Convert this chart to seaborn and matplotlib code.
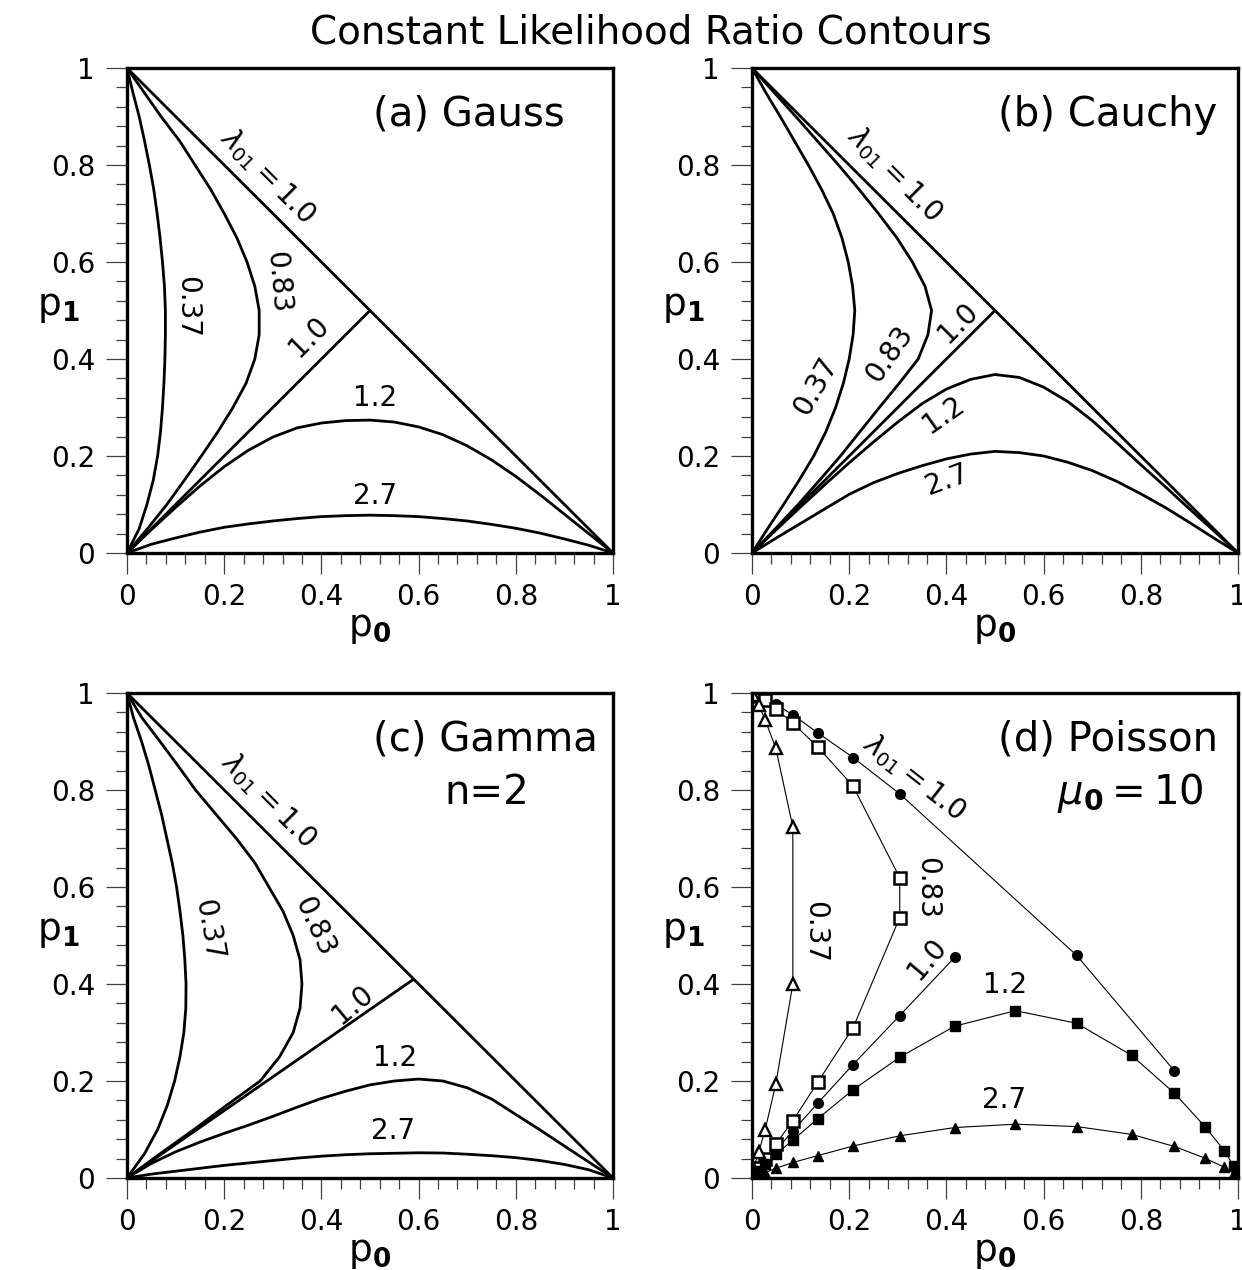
import matplotlib
matplotlib.use("Agg")
import matplotlib.pyplot as plt
import pandas as pd
import seaborn as sns
from matplotlib.ticker import MultipleLocator, FixedLocator, FixedFormatter

# ------------------------------------------------------------------ data
TICKS = [0.0, 0.2, 0.4, 0.6, 0.8, 1.0]
TICK_LABELS = ["0", "0.2", "0.4", "0.6", "0.8", "1"]

DIAG_P0 = [0.0, 1.0]
DIAG_P1 = [1.0, 0.0]

# shared sampling grids for the smooth contours
P1_GRID = [1.0, 0.95, 0.9, 0.85, 0.8, 0.75, 0.7, 0.65, 0.6, 0.55, 0.5,
           0.45, 0.4, 0.35, 0.3, 0.25, 0.2, 0.15, 0.1, 0.05, 0.0]
P0_GRID = [0.0, 0.05, 0.1, 0.15, 0.2, 0.25, 0.3, 0.35, 0.4, 0.45, 0.5,
           0.55, 0.6, 0.65, 0.7, 0.75, 0.8, 0.85, 0.9, 0.95, 1.0]

# (a) Gauss
GAUSS_L10_P0 = [0.0, 0.5]
GAUSS_L10_P1 = [0.0, 0.5]
GAUSS_L037_P0 = [0.0, 0.012, 0.025, 0.036, 0.046, 0.055, 0.062, 0.068, 0.073, 0.077, 0.079,
                 0.079, 0.078, 0.076, 0.073, 0.069, 0.063, 0.054, 0.041, 0.025, 0.0]
GAUSS_L083_P0 = [0.0, 0.035, 0.070, 0.108, 0.140, 0.172, 0.200, 0.226, 0.247, 0.263, 0.272,
                 0.272, 0.263, 0.245, 0.218, 0.187, 0.153, 0.118, 0.082, 0.042, 0.0]
GAUSS_L12_P1 = [0.0, 0.048, 0.094, 0.138, 0.178, 0.212, 0.239, 0.258, 0.268, 0.273, 0.274,
                0.270, 0.260, 0.244, 0.221, 0.192, 0.158, 0.120, 0.080, 0.040, 0.0]
GAUSS_L27_P1 = [0.0, 0.018, 0.031, 0.043, 0.053, 0.060, 0.066, 0.071, 0.075, 0.077, 0.078,
                0.077, 0.075, 0.071, 0.066, 0.059, 0.051, 0.041, 0.029, 0.016, 0.0]

# (b) Cauchy
CAUCHY_L10_P0 = [0.0, 0.5]
CAUCHY_L10_P1 = [0.0, 0.5]
CAUCHY_L037_P0 = [0.0, 0.028, 0.058, 0.087, 0.116, 0.143, 0.167, 0.185, 0.198, 0.207, 0.2115,
                  0.208, 0.200, 0.188, 0.172, 0.152, 0.127, 0.097, 0.065, 0.032, 0.0]
CAUCHY_L083_P0 = [0.0, 0.045, 0.090, 0.134, 0.178, 0.220, 0.260, 0.298, 0.330, 0.356, 0.3695,
                  0.362, 0.342, 0.303, 0.262, 0.222, 0.182, 0.139, 0.095, 0.048, 0.0]
CAUCHY_L12_P1 = [0.0, 0.048, 0.095, 0.141, 0.186, 0.229, 0.270, 0.308, 0.338, 0.358, 0.368,
                 0.362, 0.342, 0.312, 0.273, 0.228, 0.182, 0.137, 0.091, 0.046, 0.0]
CAUCHY_L27_P1 = [0.0, 0.031, 0.061, 0.091, 0.121, 0.145, 0.164, 0.180, 0.194, 0.204, 0.2095,
                 0.207, 0.200, 0.187, 0.170, 0.148, 0.122, 0.094, 0.063, 0.031, 0.0]

# (c) Gamma, n = 2
GAMMA_L10_P0 = [0.0, 0.59]
GAMMA_L10_P1 = [0.0, 0.41]
GAMMA_L037_P0 = [0.0, 0.013, 0.030, 0.045, 0.058, 0.071, 0.082, 0.093, 0.102, 0.109, 0.115,
                 0.119, 0.1215, 0.121, 0.117, 0.109, 0.098, 0.083, 0.063, 0.036, 0.0]
GAMMA_L083_P0 = [0.0, 0.030, 0.068, 0.105, 0.141, 0.183, 0.225, 0.263, 0.292, 0.321, 0.342,
                 0.356, 0.360, 0.356, 0.342, 0.314, 0.274, 0.205, 0.138, 0.068, 0.0]
GAMMA_L12_P1 = [0.0, 0.030, 0.054, 0.074, 0.092, 0.109, 0.127, 0.146, 0.164, 0.179, 0.192,
                0.200, 0.204, 0.200, 0.186, 0.163, 0.131, 0.099, 0.066, 0.033, 0.0]
GAMMA_L27_P1 = [0.0, 0.008, 0.014, 0.020, 0.026, 0.031, 0.036, 0.041, 0.045, 0.048, 0.050,
                0.051, 0.052, 0.0515, 0.049, 0.046, 0.042, 0.036, 0.028, 0.017, 0.0]

# (d) Poisson, mu0 = 10 (discrete points)
POIS_L10_UP_P0 = [0.003, 0.014, 0.027, 0.049, 0.084, 0.135, 0.208, 0.304, 0.668, 0.869]
POIS_L10_UP_P1 = [0.998, 0.993, 0.986, 0.977, 0.955, 0.918, 0.867, 0.792, 0.459, 0.221]
POIS_L10_LO_P0 = [0.003, 0.014, 0.027, 0.049, 0.084, 0.135, 0.208, 0.304, 0.417]
POIS_L10_LO_P1 = [0.004, 0.017, 0.032, 0.057, 0.097, 0.154, 0.234, 0.335, 0.455]
POIS_L083_P0 = [0.003, 0.014, 0.027, 0.049, 0.084, 0.135, 0.208, 0.304, 0.304, 0.208, 0.135, 0.084, 0.049, 0.027, 0.014, 0.003]
POIS_L083_P1 = [0.998, 0.993, 0.986, 0.967, 0.938, 0.889, 0.808, 0.619, 0.537, 0.310, 0.197, 0.118, 0.070, 0.040, 0.021, 0.006]
POIS_L037_P0 = [0.003, 0.014, 0.027, 0.049, 0.084, 0.084, 0.049, 0.027, 0.014, 0.003]
POIS_L037_P1 = [0.995, 0.975, 0.945, 0.886, 0.724, 0.400, 0.194, 0.099, 0.054, 0.020]
POIS_L12_P0 = [0.003, 0.014, 0.027, 0.049, 0.084, 0.135, 0.208, 0.304, 0.417, 0.542, 0.668, 0.781, 0.869, 0.932, 0.972, 0.991, 0.998]
POIS_L12_P1 = [0.004, 0.015, 0.028, 0.049, 0.078, 0.122, 0.182, 0.249, 0.313, 0.345, 0.319, 0.253, 0.175, 0.106, 0.056, 0.025, 0.008]
POIS_L27_P0 = [0.014, 0.027, 0.049, 0.084, 0.135, 0.208, 0.304, 0.417, 0.542, 0.668, 0.781, 0.869, 0.932, 0.972, 0.991]
POIS_L27_P1 = [0.006, 0.011, 0.020, 0.032, 0.046, 0.066, 0.087, 0.104, 0.111, 0.106, 0.090, 0.065, 0.041, 0.022, 0.010]

# ------------------------------------------------------------------ style
sns.set_style("ticks")
plt.rcParams["font.family"] = ["DejaVu Sans"]
plt.rcParams["mathtext.fontset"] = "dejavusans"
plt.rcParams["text.color"] = "black"
plt.rcParams["axes.labelcolor"] = "black"

LAM_TEXT = r"$\lambda_{\mathregular{01}}\mathregular{=1.0}$"
P0_TEXT = r"$\mathregular{p}_{\mathbf{0}}$"
P1_TEXT = r"$\mathregular{p}_{\mathbf{1}}$"

fig = plt.figure(figsize=(12.42, 12.70), dpi=100)

W, H = 486 / 1242, 485 / 1270
positions = {
    "a": [127 / 1242, 1 - 553 / 1270, W, H],
    "b": [752 / 1242, 1 - 553 / 1270, W, H],
    "c": [127 / 1242, 1 - 1178 / 1270, W, H],
    "d": [752 / 1242, 1 - 1178 / 1270, W, H],
}


def setup_axes(ax):
    ax.set_xlim(0, 1)
    ax.set_ylim(0, 1)
    for side in ["left", "right", "top", "bottom"]:
        ax.spines[side].set_visible(True)
        ax.spines[side].set_linewidth(2.4)
        ax.spines[side].set_color("black")
    ax.xaxis.set_major_locator(FixedLocator(TICKS))
    ax.yaxis.set_major_locator(FixedLocator(TICKS))
    ax.xaxis.set_major_formatter(FixedFormatter(TICK_LABELS))
    ax.yaxis.set_major_formatter(FixedFormatter(TICK_LABELS))
    ax.xaxis.set_minor_locator(MultipleLocator(0.04))
    ax.yaxis.set_minor_locator(MultipleLocator(0.04))
    ax.tick_params(which="both", direction="out", top=False, right=False,
                   color="#404040", width=0.9, labelcolor="black")
    ax.tick_params(which="major", length=15, labelsize=20)
    ax.tick_params(which="minor", length=8)
    ax.tick_params(axis="x", which="major", pad=6.5)
    ax.tick_params(axis="y", which="major", pad=8)
    ax.set_xlabel(P0_TEXT, fontsize=27, va="center")
    ax.set_ylabel(P1_TEXT, fontsize=27, rotation=0, va="center", ha="center")
    ax.xaxis.set_label_coords(0.5, -0.155)
    ax.yaxis.set_label_coords(-0.142, 0.507)


def curve(ax, p0, p1, lw=2.0):
    df = pd.DataFrame({"p0": p0, "p1": p1})
    sns.lineplot(data=df, x="p0", y="p1", sort=False, estimator=None,
                 color="black", lw=lw, ax=ax)


def points(ax, p0, p1, marker, ms, filled, mew=1.5):
    df = pd.DataFrame({"p0": p0, "p1": p1})
    sns.lineplot(data=df, x="p0", y="p1", sort=False, estimator=None,
                 color="black", lw=0.8, marker=marker, markersize=ms,
                 markerfacecolor="black" if filled else "white",
                 markeredgecolor="black", markeredgewidth=mew, ax=ax)


def label(ax, text, x, y, rot=0, size=20):
    ax.text(x, y, text, fontsize=size, rotation=rot, rotation_mode="anchor",
            ha="center", va="center", color="black")


def panel_title(ax, text, sub=None, sub_x=0.75):
    ax.text(0.507, 0.881, text, transform=ax.transAxes, fontsize=29,
            ha="left", va="baseline")
    if sub is not None:
        ax.text(sub_x, 0.772, sub, transform=ax.transAxes, fontsize=29,
                ha="center", va="baseline")


# (a) Gauss
ax = fig.add_axes(positions["a"])
curve(ax, DIAG_P0, DIAG_P1)
curve(ax, GAUSS_L10_P0, GAUSS_L10_P1)
curve(ax, GAUSS_L037_P0, P1_GRID)
curve(ax, GAUSS_L083_P0, P1_GRID)
curve(ax, P0_GRID, GAUSS_L12_P1)
curve(ax, P0_GRID, GAUSS_L27_P1)
setup_axes(ax)
label(ax, LAM_TEXT, 0.29, 0.778, -45)
label(ax, "0.37", 0.1235, 0.508, -90)
label(ax, "0.83", 0.311, 0.559, -85)
label(ax, "1.0", 0.3735, 0.446, 45)
label(ax, "1.2", 0.51, 0.32)
label(ax, "2.7", 0.51, 0.1175)
panel_title(ax, "(a) Gauss")

# (b) Cauchy
ax = fig.add_axes(positions["b"])
curve(ax, DIAG_P0, DIAG_P1)
curve(ax, CAUCHY_L10_P0, CAUCHY_L10_P1)
curve(ax, CAUCHY_L037_P0, P1_GRID)
curve(ax, CAUCHY_L083_P0, P1_GRID)
curve(ax, P0_GRID, CAUCHY_L12_P1)
curve(ax, P0_GRID, CAUCHY_L27_P1)
setup_axes(ax)
label(ax, LAM_TEXT, 0.293, 0.781, -45)
label(ax, "1.0", 0.423, 0.474, 45)
label(ax, "0.83", 0.283, 0.41, 55)
label(ax, "0.37", 0.132, 0.343, 60)
label(ax, "1.2", 0.395, 0.2845, 35)
label(ax, "2.7", 0.401, 0.15, 20)
panel_title(ax, "(b) Cauchy")

# (c) Gamma
ax = fig.add_axes(positions["c"])
curve(ax, DIAG_P0, DIAG_P1)
curve(ax, GAMMA_L10_P0, GAMMA_L10_P1)
curve(ax, GAMMA_L037_P0, P1_GRID)
curve(ax, GAMMA_L083_P0, P1_GRID)
curve(ax, P0_GRID, GAMMA_L12_P1)
curve(ax, P0_GRID, GAMMA_L27_P1)
setup_axes(ax)
label(ax, LAM_TEXT, 0.292, 0.779, -45)
label(ax, "0.37", 0.168, 0.512, -80)
label(ax, "0.83", 0.386, 0.5175, -65)
label(ax, "1.0", 0.464, 0.357, 40)
label(ax, "1.2", 0.552, 0.2474)
label(ax, "2.7", 0.548, 0.096)
panel_title(ax, "(c) Gamma", "n=2", 0.741)

# (d) Poisson
ax = fig.add_axes(positions["d"])
points(ax, POIS_L10_UP_P0, POIS_L10_UP_P1, "o", 7.0, True, 1.0)
points(ax, POIS_L10_LO_P0, POIS_L10_LO_P1, "o", 7.0, True, 1.0)
points(ax, POIS_L083_P0, POIS_L083_P1, "s", 8.0, False, 1.8)
points(ax, POIS_L037_P0, POIS_L037_P1, "^", 9.0, False, 1.7)
points(ax, POIS_L12_P0, POIS_L12_P1, "s", 6.5, True, 1.0)
points(ax, POIS_L27_P0, POIS_L27_P1, "^", 6.5, True, 1.0)
setup_axes(ax)
label(ax, LAM_TEXT, 0.334, 0.827, -38)
label(ax, "0.83", 0.36, 0.597, -90)
label(ax, "0.37", 0.13, 0.508, -90)
label(ax, "1.0", 0.36, 0.4515, 50)
label(ax, "1.2", 0.5216, 0.397)
label(ax, "2.7", 0.5185, 0.161)
panel_title(ax, "(d) Poisson", r"$\mu_{\mathbf{0}}\mathregular{=10}$", 0.779)

fig.text(0.524, 0.9654, "Constant Likelihood Ratio Contours", fontsize=28,
         ha="center", va="baseline")

fig.savefig("out.png", dpi=100)
